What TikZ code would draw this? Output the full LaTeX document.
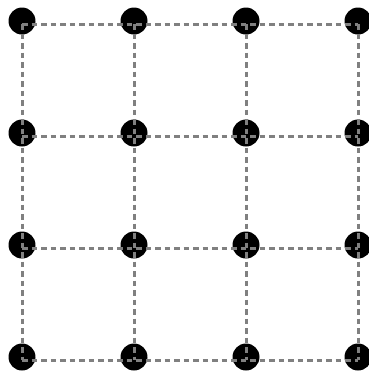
\documentclass[tikz,border=0pt]{standalone}
\begin{document}
\begin{tikzpicture}[x=1pt,y=-1pt,
  dot/.style={circle,fill=black,inner sep=0pt,minimum size=27pt},
  gridline/.style={draw={rgb,255:red,128;green,128;blue,128},line width=3pt,dash pattern=on 5.5pt off 4pt}]
\useasboundingbox (0,0) rectangle (369,373);
\foreach \i in {0,1,2,3}{
  \foreach \j in {0,1,2,3}{
    \coordinate (p\i\j) at ({22+112*\i},{24+112*\j});
    \node[dot] (d\i\j) at ({22+112*\i},{21+112*\j}) {};
  }
}
\foreach \j in {0,1,2,3}{
  \draw[gridline] (p0\j) -- (p1\j) -- (p2\j) -- (p3\j);
  \draw[gridline] (p\j0) -- (p\j1) -- (p\j2) -- (p\j3);
}
\end{tikzpicture}
\end{document}
